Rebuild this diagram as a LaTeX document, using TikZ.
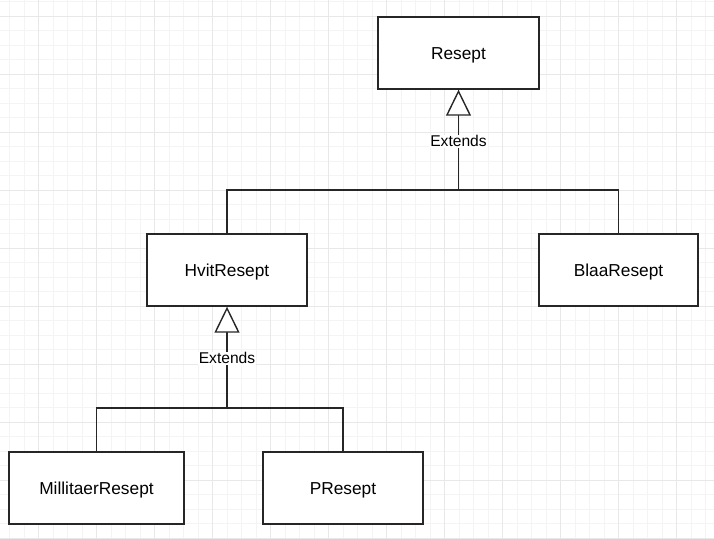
\documentclass[tikz,border=0pt]{standalone}
\usepackage{fontspec}
\setmainfont{Liberation Sans}
\usetikzlibrary{arrows.meta}
\definecolor{gridminor}{HTML}{F4F4F4}
\definecolor{gridmajor}{HTML}{E8E8E8}
\begin{document}
\begin{tikzpicture}[x=1pt,y=-1pt,
  cls/.style={draw=black!85, line width=1.4pt, fill=white, minimum width=#1, minimum height=72pt, inner sep=0pt, text height=13pt, text depth=0pt, font=\fontsize{17.3}{20}\selectfont},
  cls/.default=160pt,
  conn/.style={draw=black!85, line width=1.4pt},
  inh/.style={conn, -{Triangle[open, fill=white, length=26pt, width=25pt]}},
  lbl/.style={fill=white, inner sep=1pt, font=\fontsize{15.6}{18}\selectfont}]
\useasboundingbox (0,0) rectangle (714,538);
% grid
\foreach \i in {0,...,50} {
  \pgfmathsetmacro\gx{-19.7+14.5*\i}
  \draw[gridminor, line width=0.6pt] (\gx,0) -- (\gx,538);
}
\foreach \i in {0,...,38} {
  \pgfmathsetmacro\gy{1.5+14.5*\i}
  \draw[gridminor, line width=0.6pt] (0,\gy) -- (714,\gy);
}
\foreach \i in {0,...,13} {
  \pgfmathsetmacro\gx{-19.7+58*\i}
  \draw[gridmajor, line width=0.8pt] (\gx,0) -- (\gx,538);
}
\foreach \i in {0,...,9} {
  \pgfmathsetmacro\gy{16+58*\i}
  \draw[gridmajor, line width=0.8pt] (0,\gy) -- (714,\gy);
}
% classes
\node[cls=161pt] (resept) at (458.5,53) {Resept};
\node[cls=160pt] (hvit) at (227,270) {HvitResept};
\node[cls=159pt] (blaa) at (618.5,270) {BlaaResept};
\node[cls=175pt] (mil) at (96.5,488) {MillitaerResept};
\node[cls=160pt] (pres) at (343,488) {PResept};
% junctions
\coordinate (j1) at (458.5,190);
\coordinate (j2) at (227,408);
% inheritance 1
\draw[conn] (hvit.north) |- (j1);
\draw[conn] (blaa.north) |- (j1);
\draw[inh] (j1) -- node[lbl, pos=0.485] (ext1) {Extends} (resept.south);
% inheritance 2
\draw[conn] (mil.north) |- (j2);
\draw[conn] (pres.north) |- (j2);
\draw[inh] (j2) -- node[lbl, pos=0.49] (ext2) {Extends} (hvit.south);
\end{tikzpicture}
\end{document}
